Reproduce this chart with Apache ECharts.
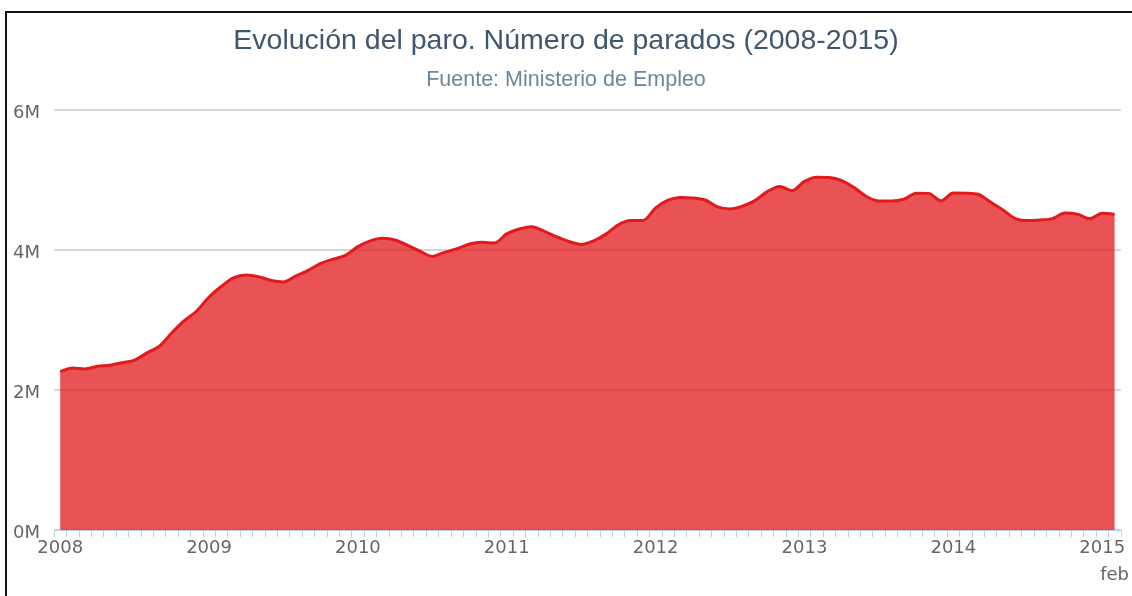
<!DOCTYPE html>
<html>
<head>
<meta charset="utf-8">
<script src="https://cdn.jsdelivr.net/npm/echarts@6/dist/echarts.min.js"></script>
<style>
  html, body { margin: 0; padding: 0; background: #fff; }
  .frame {
    position: absolute; left: 5px; top: 11px; width: 2000px; height: 2000px;
    border-left: 2px solid #111; border-top: 2px solid #111;
  }
  #paro { position: absolute; left: 0; top: 0; width: 1132px; height: 596px; }
</style>
</head>
<body>
<div class="frame"></div>
<div id="paro"></div>
<script>
// parados registrados, mensual (ene 2008 - feb 2015)
const years = [2008, 2009, 2010, 2011, 2012, 2013, 2014, 2015];
const months = ["ene", "feb", "mar", "abr", "may", "jun", "jul", "ago", "sep", "oct", "nov", "dic"];
const parados = [
  2261125, 2315331, 2300975, 2338517, 2353985, 2390403, 2426764, 2530001, 2625368, 2818026, 2989269, 3128963,
  3327801, 3481859, 3605402, 3644041, 3620139, 3564889, 3544147, 3629080, 3709447, 3808353, 3868946, 3923603,
  4048493, 4130625, 4166613, 4142425, 4066202, 3982368, 3908685, 3969661, 4017763, 4085976, 4110294, 4100073,
  4231003, 4299263, 4333669, 4269360, 4189659, 4121801, 4079742, 4130927, 4226744, 4360926, 4420462, 4422359,
  4599829, 4712098, 4750867, 4744235, 4714122, 4615269, 4587455, 4625634, 4705279, 4833521, 4907817, 4848723,
  4980778, 5040222, 5035243, 4989193, 4890928, 4763680, 4698814, 4698783, 4724355, 4811383, 4808908, 4701338,
  4814435, 4812486, 4795866, 4684301, 4572385, 4449701, 4419860, 4427930, 4447650, 4526804, 4512116, 4447711,
  4525691, 4512153
];
const yTicks = [0, 2000000, 4000000, 6000000];

// una categoria por mes
const categories = [];
years.forEach(function (y) {
  months.forEach(function (m) {
    if (categories.length < parados.length) categories.push(m + " " + y);
  });
});

const chart = echarts.init(document.getElementById("paro"));

const option = {
  animation: false,
  title: {
    text: "Evolución del paro. Número de parados (2008-2015)",
    subtext: "Fuente: Ministerio de Empleo",
    left: "center",
    top: 22,
    itemGap: 13,
    textStyle: {
      fontFamily: "Liberation Sans",
      fontSize: 28.5,
      fontWeight: "normal",
      color: "#3E576F"
    },
    subtextStyle: {
      fontFamily: "Liberation Sans",
      fontSize: 21.5,
      color: "#6D869F"
    }
  },
  grid: { left: 54, right: 10, top: 110, bottom: 66, containLabel: false },
  xAxis: {
    type: "category",
    data: categories,
    boundaryGap: true,
    axisLine: { lineStyle: { color: "#C0D0E0", width: 1 } },
    axisTick: { show: true, interval: 0, length: 7, lineStyle: { color: "#C0D0E0" } },
    axisLabel: {
      interval: 0,
      margin: 5,
      fontFamily: "DejaVu Sans",
      fontSize: 18,
      lineHeight: 27,
      color: "#666",
      formatter: function (val, idx) {
        if (idx === categories.length - 1) return "\n" + months[idx % 12];
        if (idx % 12 === 0) return String(years[idx / 12]);
        return "";
      }
    }
  },
  yAxis: {
    type: "value",
    min: yTicks[0],
    max: yTicks[yTicks.length - 1],
    interval: yTicks[1] - yTicks[0],
    axisLine: { show: false },
    axisTick: { show: false },
    splitLine: { lineStyle: { color: "#C8C8C8", width: 1.5 } },
    axisLabel: {
      margin: 14,
      color: "#666",
      formatter: function (v) { return "{m|" + v / 1000000 + "M}"; },
      rich: {
        m: {
          fontFamily: "DejaVu Sans",
          fontSize: 18,
          color: "#666",
          padding: [7, 0, 0, 0]
        }
      }
    }
  },
  series: [
    {
      name: "Parados",
      type: "line",
      data: parados,
      smooth: 0.3,
      symbol: "none",
      lineStyle: { color: "#E3191C", width: 3 },
      itemStyle: { color: "#E3191C" },
      areaStyle: { color: "#E3191C", opacity: 0.75 }
    }
  ]
};

chart.setOption(option);
</script>
</body>
</html>
